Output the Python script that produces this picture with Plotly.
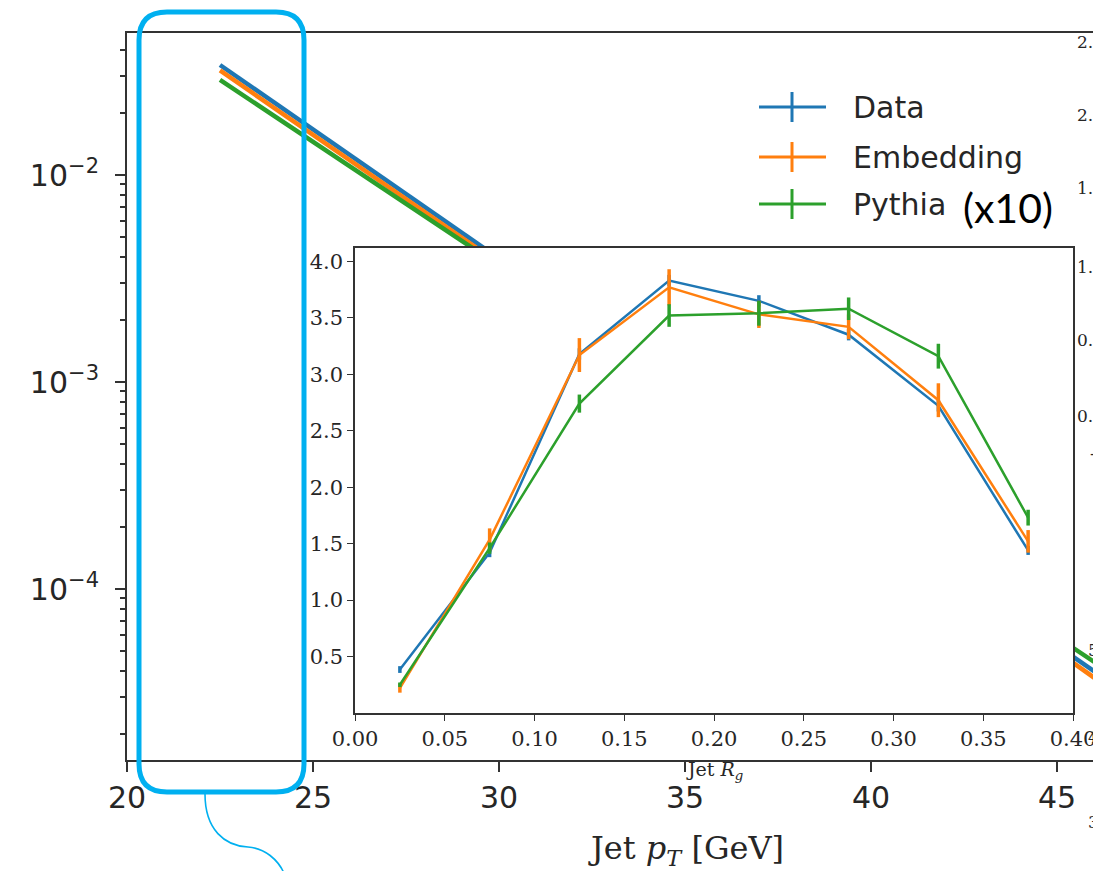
import plotly.graph_objects as go

W, H = 1101, 871
OFF = 8  # page body margin

# ---------------- data ----------------
pt_bins = [22.5, 25, 27.5, 30, 32.5, 35, 37.5, 40, 42.5, 45, 47.5]
pt_data = [3.4e-2, 1.66e-2, 8.1e-3, 3.96e-3, 1.94e-3, 9.5e-4, 4.6e-4, 2.26e-4, 1.10e-4, 5.4e-5, 2.6e-5]
pt_emb = [3.2e-2, 1.57e-2, 7.7e-3, 3.75e-3, 1.83e-3, 8.9e-4, 4.35e-4, 2.12e-4, 1.03e-4, 5.0e-5, 2.4e-5]
pt_pyth = [2.88e-2, 1.45e-2, 7.26e-3, 3.65e-3, 1.83e-3, 9.2e-4, 4.62e-4, 2.32e-4, 1.17e-4, 5.86e-5, 2.94e-5]

rg_bins = [0.025, 0.075, 0.125, 0.175, 0.225, 0.275, 0.325, 0.375]
rg_data = [0.385, 1.42, 3.18, 3.83, 3.65, 3.35, 2.72, 1.44]
rg_data_err = [0.03, 0.04, 0.05, 0.05, 0.05, 0.05, 0.05, 0.04]
rg_emb = [0.22, 1.535, 3.17, 3.77, 3.53, 3.42, 2.77, 1.52]
rg_emb_err = [0.04, 0.10, 0.15, 0.16, 0.12, 0.11, 0.15, 0.10]
rg_pyth = [0.25, 1.46, 2.74, 3.52, 3.54, 3.58, 3.16, 1.73]
rg_pyth_err = [0.02, 0.05, 0.08, 0.10, 0.11, 0.10, 0.11, 0.07]

series_names = ["Data", "Embedding", "Pythia"]
colors = ["#1f77b4", "#ff7f0e", "#2ca02c"]

pt_ticks = [20, 25, 30, 35, 40, 45]
log_ticks = [1e-4, 1e-3, 1e-2]
log_ticktext = ["10<sup>\u22124</sup>", "10<sup>\u22123</sup>", "10<sup>\u22122</sup>"]
rg_xticks = [0.0, 0.05, 0.1, 0.15, 0.2, 0.25, 0.3, 0.35, 0.4]
rg_yticks = [0.5, 1.0, 1.5, 2.0, 2.5, 3.0, 3.5, 4.0]

# clipped labels of a neighbouring panel at right edge
frag_texts = ["2.5", "2.0", "1.5", "1.0", "0.5", "0.0", "-", "5", "4", "3"]
frag_pos = [(1075, 42), (1075, 115), (1075, 188), (1075, 267), (1075, 340), (1075, 416),
            (1088, 453), (1086, 650), (1086, 737), (1086, 822)]


def fx(p):
    return (p - OFF) / W


def fy(p):
    return 1 - (p - OFF) / H


fig = go.Figure()

# main panel lines
for vals, name, c in zip([pt_data, pt_emb, pt_pyth], series_names, colors):
    fig.add_trace(go.Scatter(x=pt_bins, y=vals, mode="lines", line=dict(color=c, width=4.5),
                             xaxis="x", yaxis="y", showlegend=False, name=name))

# inset lines with errorbars
for vals, errs, name, c in zip([rg_data, rg_emb, rg_pyth], [rg_data_err, rg_emb_err, rg_pyth_err],
                               series_names, colors):
    fig.add_trace(go.Scatter(x=rg_bins, y=vals, mode="lines", line=dict(color=c, width=2.5),
                             error_y=dict(type="data", array=errs, color=c, thickness=3.5, width=0),
                             xaxis="x2", yaxis="y2", showlegend=False, name=name))

minor_vals = []
for e in [1e-5, 1e-4, 1e-3, 1e-2]:
    for k in range(2, 10):
        minor_vals.append(k * e)

axis_col = "#333333"
tick_col = "#262626"

fig.update_layout(
    width=W, height=H, autosize=False,
    margin=dict(l=0, r=0, t=0, b=0, pad=0),
    paper_bgcolor="white", plot_bgcolor="rgba(0,0,0,0)",
    xaxis=dict(domain=[fx(127), 1.0], range=[20, 20 + (W + OFF - 127) / 37.2], automargin=False,
               tickvals=pt_ticks, ticks="outside", ticklen=10, tickwidth=2, tickcolor=axis_col,
               showline=True, linecolor=axis_col, linewidth=2, mirror=True, showgrid=False,
               zeroline=False, tickfont=dict(family="DejaVu Sans", size=30, color=tick_col)),
    yaxis=dict(domain=[fy(760), fy(33)], type="log", range=[-4.826, -1.314], automargin=False,
               tickvals=log_ticks, ticktext=log_ticktext, ticks="outside", ticklen=10, tickwidth=2,
               ticklabelstandoff=10,
               tickcolor=axis_col, showline=True, linecolor=axis_col, linewidth=2, showgrid=False,
               zeroline=False, tickfont=dict(family="DejaVu Sans", size=30, color=tick_col),
               minor=dict(tickvals=minor_vals, ticks="outside", ticklen=5, tickwidth=1.5,
                          tickcolor=axis_col, showgrid=False)),
    xaxis2=dict(domain=[fx(355), fx(1073)], range=[0, 0.4], anchor="y2", automargin=False,
                tickvals=rg_xticks, tickformat=".2f", ticks="outside", ticklen=6, tickwidth=1.3,
                tickcolor=axis_col, showline=True, linecolor=axis_col, linewidth=1.5, mirror=True,
                showgrid=False, zeroline=False,
                tickfont=dict(family="DejaVu Serif", size=21, color=tick_col)),
    yaxis2=dict(domain=[fy(713), fy(248)], range=[0, 4.118], anchor="x2", automargin=False,
                tickvals=rg_yticks, tickformat=".1f", ticks="outside", ticklen=6, tickwidth=1.3,
                tickcolor=axis_col, showline=True, linecolor=axis_col, linewidth=1.5, mirror=True,
                showgrid=False, zeroline=False,
                tickfont=dict(family="DejaVu Serif", size=21, color=tick_col)),
)

shapes = []
# white background of inset hiding the main lines (below inset traces)
shapes.append(dict(type="rect", xref="x2", yref="y2", x0=0, x1=0.4, y0=0, y1=4.118,
                   fillcolor="white", line=dict(width=0), layer="below"))

# legend (manual)
leg_y = [107, 157, 204]
for yy, c, name in zip(leg_y, colors, series_names):
    shapes.append(dict(type="line", xref="paper", yref="paper", x0=fx(759), x1=fx(826),
                       y0=fy(yy), y1=fy(yy), line=dict(color=c, width=3)))
    shapes.append(dict(type="line", xref="paper", yref="paper", x0=fx(792), x1=fx(792),
                       y0=fy(yy - 15), y1=fy(yy + 15), line=dict(color=c, width=3)))

# blue rounded rectangle
r = 28
L, R, T, B = 139, 304, 12, 792
path = (f"M {fx(L + r)},{fy(T)} L {fx(R - r)},{fy(T)} Q {fx(R)},{fy(T)} {fx(R)},{fy(T + r)} "
        f"L {fx(R)},{fy(B - r)} Q {fx(R)},{fy(B)} {fx(R - r)},{fy(B)} "
        f"L {fx(L + r)},{fy(B)} Q {fx(L)},{fy(B)} {fx(L)},{fy(B - r)} "
        f"L {fx(L)},{fy(T + r)} Q {fx(L)},{fy(T)} {fx(L + r)},{fy(T)} Z")
shapes.append(dict(type="path", xref="paper", yref="paper", path=path,
                   line=dict(color="#00B0F0", width=5), layer="above"))
# connector curve
cpath = (f"M {fx(205)},{fy(794)} C {fx(205)},{fy(830)} {fx(225)},{fy(846)} {fx(248)},{fy(847)} "
         f"C {fx(265)},{fy(848)} {fx(278)},{fy(860)} {fx(284)},{fy(873)}")
shapes.append(dict(type="path", xref="paper", yref="paper", path=cpath,
                   line=dict(color="#00B0F0", width=1.6), layer="above"))
fig.update_layout(shapes=shapes)

ann = []
for yy, name in zip(leg_y, series_names):
    ann.append(dict(xref="paper", yref="paper", x=fx(851), y=fy(yy), text=name, showarrow=False,
                    xanchor="left", yanchor="middle",
                    font=dict(family="DejaVu Sans", size=30, color="#262626")))
ann.append(dict(xref="paper", yref="paper", x=fx(961), y=fy(208), text="(x10)", showarrow=False,
                xanchor="left", yanchor="middle", font=dict(family="Lato", size=41, color="black")))
ann.append(dict(xref="paper", yref="paper", x=fx(686), y=fy(850),
                text="Jet <i>p</i><sub><i>T</i></sub> [GeV]", showarrow=False, xanchor="center",
                yanchor="middle", font=dict(family="DejaVu Serif", size=32, color=tick_col)))
ann.append(dict(xref="paper", yref="paper", x=fx(714), y=fy(770),
                text="Jet <i>R</i><sub><i>g</i></sub>", showarrow=False, xanchor="center",
                yanchor="middle", font=dict(family="DejaVu Serif", size=19, color=tick_col)))
for t, (px, py) in zip(frag_texts, frag_pos):
    ann.append(dict(xref="paper", yref="paper", x=fx(px), y=fy(py), text=t, showarrow=False,
                    xanchor="left", yanchor="middle",
                    font=dict(family="DejaVu Serif", size=17, color=tick_col)))
fig.update_layout(annotations=ann)

fig.write_html("out.html")
